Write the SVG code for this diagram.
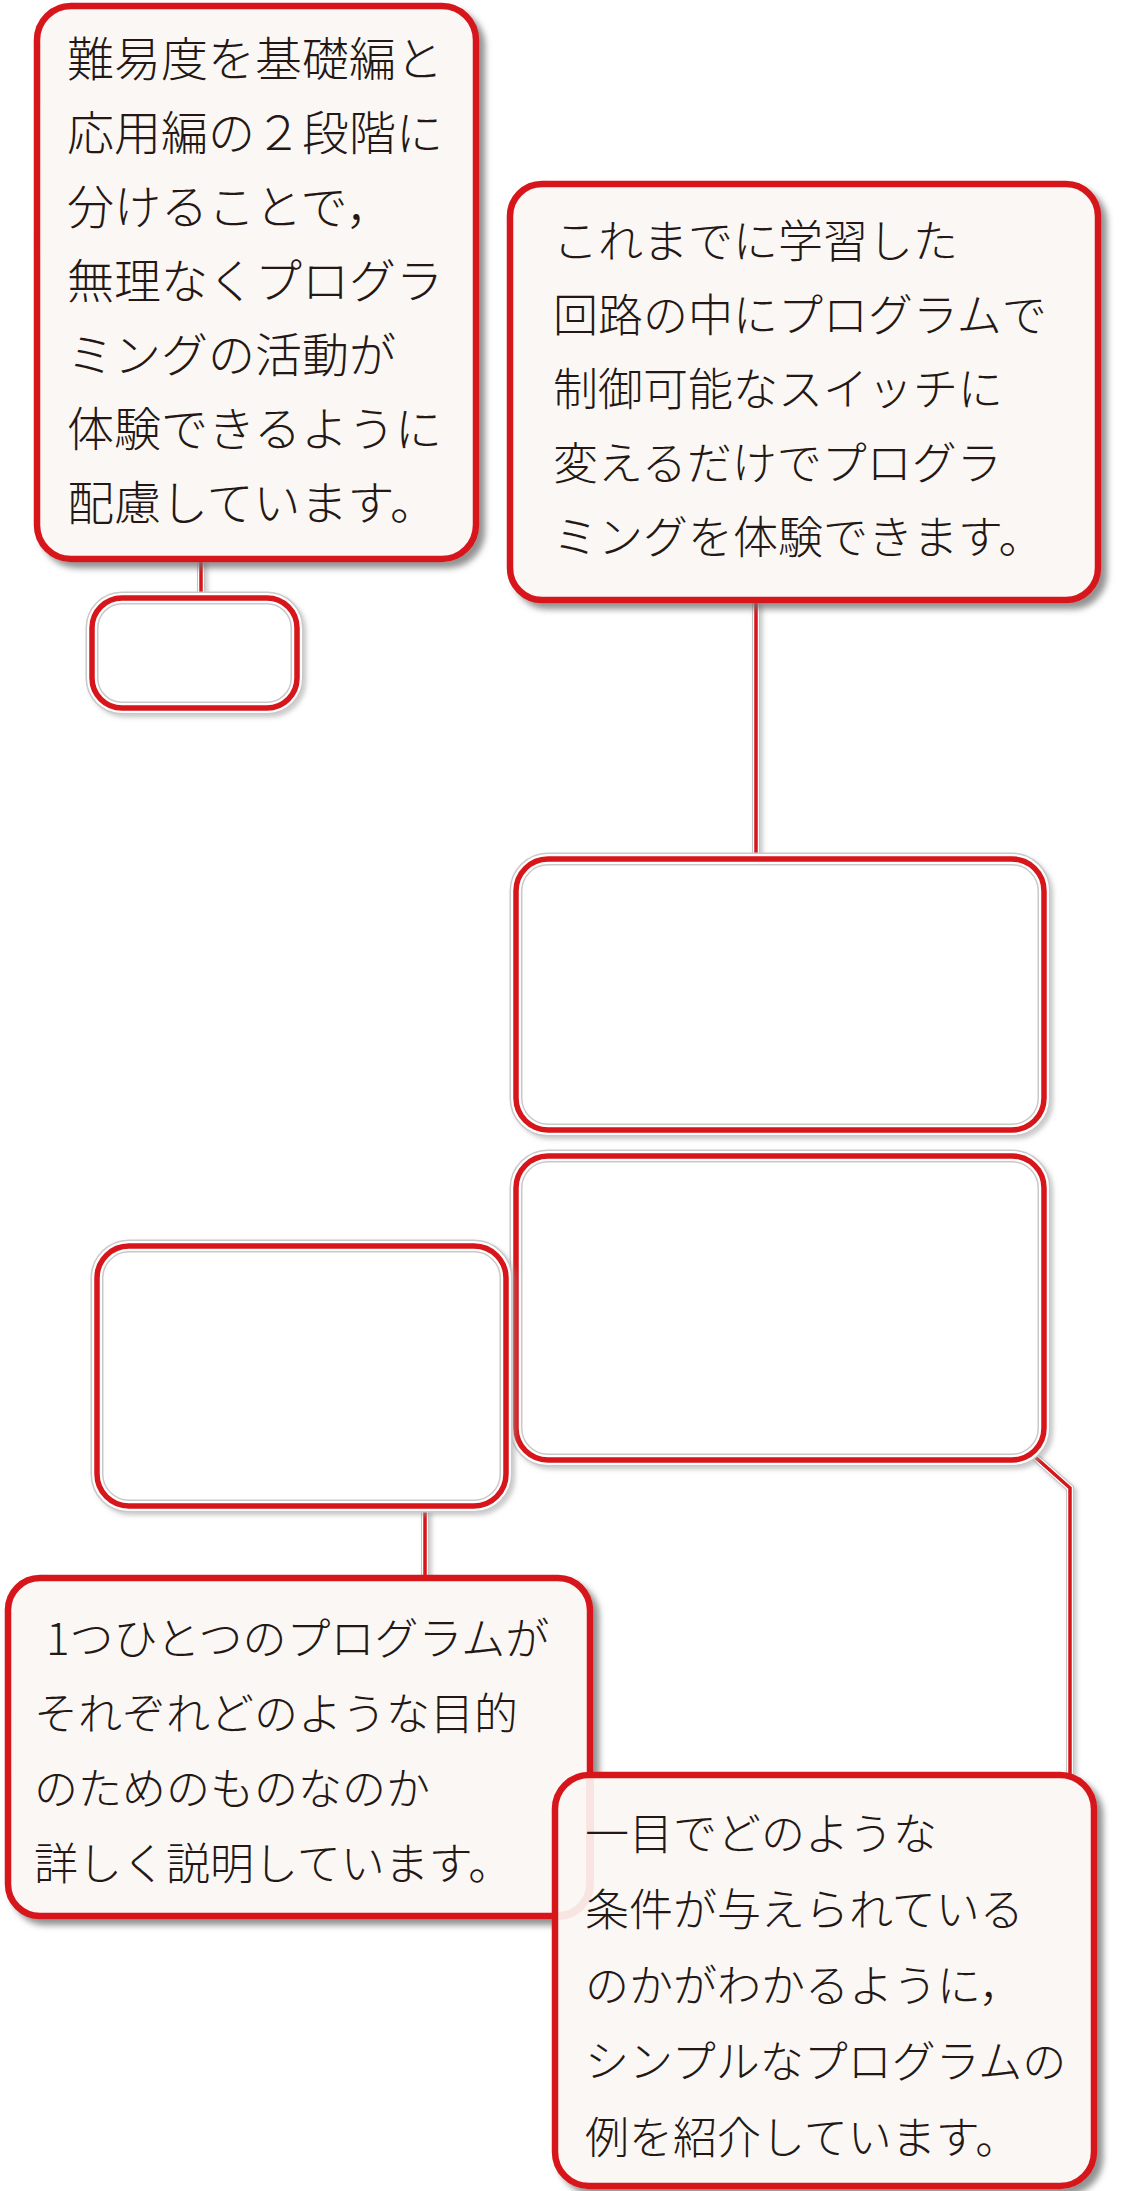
<svg xmlns="http://www.w3.org/2000/svg" width="1125" height="2191" viewBox="0 0 1125 2191">
<defs>
<style>
.txtbox{fill:#fbf7f4;stroke:#d7161d;stroke-width:6.5;}
.halo{fill:#ffffff;stroke:#c9c9c9;stroke-width:13;}
.haloW{fill:none;stroke:#ffffff;stroke-width:10;}
.redE{fill:none;stroke:#d7161d;stroke-width:5.5;}
.cg{fill:none;stroke:#c4c4c4;stroke-width:8;}
.cw{fill:none;stroke:#ffffff;stroke-width:6;}
.cr{fill:none;stroke:#d7161d;stroke-width:3.5;}
text{font-family:"Noto Sans CJK JP","Noto Sans CJK SC",sans-serif;font-weight:300;fill:#231815;}
.t1{font-size:47px;}
.t1c{font-size:45px;}
.t2{font-size:44px;}
</style>
<filter id="sh" x="-10%" y="-10%" width="125%" height="125%">
<feDropShadow dx="6" dy="6" stdDeviation="3" flood-color="#6e6e6e" flood-opacity="0.75"/>
</filter>
<filter id="sh2" x="-10%" y="-10%" width="125%" height="125%">
<feDropShadow dx="3" dy="3" stdDeviation="2" flood-color="#9a9a9a" flood-opacity="0.5"/>
</filter>
<clipPath id="clipH">
<rect x="558" y="1778" width="533" height="405" rx="31"/>
</clipPath>
</defs>
<rect width="1125" height="2191" fill="#ffffff"/>

<g id="connectors">
<g filter="url(#sh2)">
<line class="cg" x1="201" y1="559" x2="201" y2="598"/>
<line class="cw" x1="201" y1="559" x2="201" y2="598"/>
<line class="cr" x1="201" y1="559" x2="201" y2="598"/>
<line class="cg" x1="756" y1="600" x2="756" y2="860"/>
<line class="cw" x1="756" y1="600" x2="756" y2="860"/>
<line class="cr" x1="756" y1="600" x2="756" y2="860"/>
<line class="cg" x1="425" y1="1506" x2="425" y2="1578"/>
<line class="cw" x1="425" y1="1506" x2="425" y2="1578"/>
<line class="cr" x1="425" y1="1506" x2="425" y2="1578"/>
<polyline class="cg" points="1034,1456 1070,1488 1070,1775"/>
<polyline class="cw" points="1034,1456 1070,1488 1070,1775"/>
<polyline class="cr" points="1034,1456 1070,1488 1070,1775"/>
</g>
</g>

<g id="node-a">
<rect class="txtbox" x="37" y="6" width="439" height="553" rx="34" filter="url(#sh)"/>
<text class="t1" x="67" y="76">難易度を基礎編と</text>
<text class="t1" x="67" y="150">応用編の２段階に</text>
<text class="t1" x="67" y="224">分けることで，</text>
<text class="t1" x="67" y="298">無理なくプログラ</text>
<text class="t1" x="67" y="372">ミングの活動が</text>
<text class="t1" x="67" y="446">体験できるように</text>
<text class="t1" x="67" y="520">配慮しています。</text>
</g>

<g id="node-b">
<g filter="url(#sh2)">
<rect class="halo" x="92" y="598" width="205" height="110" rx="30"/>
<rect class="haloW" x="92" y="598" width="205" height="110" rx="30"/>
<rect class="redE" x="92" y="598" width="205" height="110" rx="30"/>
</g>
</g>

<g id="node-c">
<rect class="txtbox" x="510" y="184" width="588" height="416" rx="32" filter="url(#sh)"/>
<text class="t1c" x="553" y="258">これまでに学習した</text>
<text class="t1c" x="553" y="332">回路の中にプログラムで</text>
<text class="t1c" x="553" y="406">制御可能なスイッチに</text>
<text class="t1c" x="553" y="480">変えるだけでプログラ</text>
<text class="t1c" x="553" y="554">ミングを体験できます。</text>
</g>

<g id="node-d">
<g filter="url(#sh2)">
<rect class="halo" x="516" y="859" width="528" height="271" rx="32"/>
<rect class="haloW" x="516" y="859" width="528" height="271" rx="32"/>
<rect class="redE" x="516" y="859" width="528" height="271" rx="32"/>
</g>
</g>

<g id="node-e">
<g filter="url(#sh2)">
<rect class="halo" x="516" y="1156" width="528" height="304" rx="32"/>
<rect class="haloW" x="516" y="1156" width="528" height="304" rx="32"/>
<rect class="redE" x="516" y="1156" width="528" height="304" rx="32"/>
</g>
</g>

<g id="node-f">
<g filter="url(#sh2)">
<rect class="halo" x="97" y="1246" width="409" height="260" rx="32"/>
<rect class="haloW" x="97" y="1246" width="409" height="260" rx="32"/>
<rect class="redE" x="97" y="1246" width="409" height="260" rx="32"/>
</g>
</g>

<g id="node-g">
<rect class="txtbox" x="8" y="1578" width="582" height="338" rx="32" filter="url(#sh)"/>
<text class="t2" x="46" y="1655">1つひとつのプログラムが</text>
<text class="t2" x="34" y="1730">それぞれどのような目的</text>
<text class="t2" x="34" y="1805">のためのものなのか</text>
<text class="t2" x="34" y="1880">詳しく説明しています。</text>
</g>

<g id="node-h">
<rect class="txtbox" x="555" y="1775" width="539" height="411" rx="34" filter="url(#sh)"/>
<rect x="8" y="1578" width="582" height="338" rx="32" fill="none" stroke="#d7161d" stroke-width="8" stroke-opacity="0.08" clip-path="url(#clipH)"/>
<text class="t2" x="585" y="1850">一目でどのような</text>
<text class="t2" x="585" y="1926">条件が与えられている</text>
<text class="t2" x="585" y="2002">のかがわかるように，</text>
<text class="t2" x="585" y="2078">シンプルなプログラムの</text>
<text class="t2" x="585" y="2154">例を紹介しています。</text>
</g>
</svg>
